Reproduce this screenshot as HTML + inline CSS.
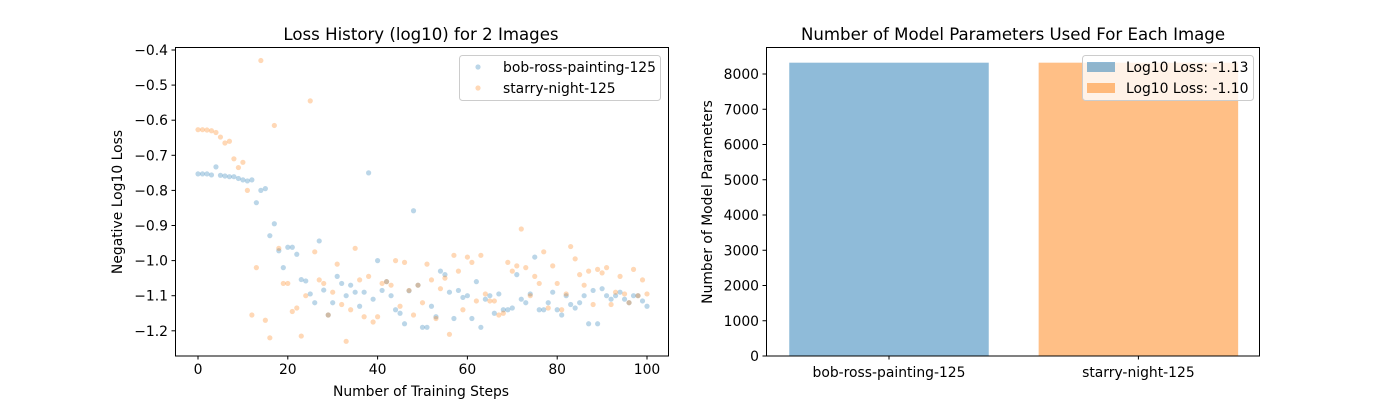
<!DOCTYPE html>
<html><head><meta charset="utf-8"><style>
body{margin:0;background:#fff}
svg{display:block;font-family:"DejaVu Sans","Liberation Sans",sans-serif}
</style></head><body>
<svg id="fig" width="1400" height="400" viewBox="0 0 1400 400">
<rect width="1400" height="400" fill="#fff"/>
<g id="left"></g>
<g id="right"></g>
</svg>
<script>
const steps = Array.from({length:101},(_, i)=>i);
const bobLoss = [-0.753,-0.753,-0.753,-0.756,-0.733,-0.757,-0.759,-0.761,-0.761,-0.766,-0.770,-0.773,-0.770,-0.835,-0.800,-0.795,-0.929,-0.895,-0.972,-1.02,-0.962,-0.962,-0.982,-1.054,-1.058,-1.095,-1.12,-0.944,-1.084,-1.155,-1.12,-1.045,-1.065,-1.10,-1.07,-1.09,-1.13,-1.09,-0.75,-1.11,-1.00,-1.085,-1.06,-1.10,-1.14,-1.15,-1.18,-1.086,-0.858,-1.07,-1.19,-1.19,-1.13,-1.16,-1.03,-1.04,-1.09,-1.165,-1.085,-1.105,-1.10,-1.165,-1.06,-1.19,-1.11,-1.10,-1.15,-1.095,-1.14,-1.14,-1.135,-1.04,-1.11,-1.12,-1.095,-0.99,-1.14,-1.14,-1.12,-1.09,-1.14,-1.155,-1.10,-1.125,-1.135,-1.12,-1.10,-1.18,-1.085,-1.18,-1.08,-1.10,-1.11,-1.10,-1.09,-1.11,-1.12,-1.10,-1.10,-1.115,-1.13];
const starryLoss = [-0.627,-0.627,-0.628,-0.630,-0.635,-0.648,-0.665,-0.660,-0.71,-0.735,-0.72,-0.80,-1.155,-1.02,-0.43,-1.17,-1.22,-0.615,-0.965,-1.065,-1.065,-1.145,-1.135,-1.215,-1.10,-0.545,-0.975,-1.055,-1.065,-1.155,-1.09,-1.01,-1.125,-1.23,-1.14,-0.965,-1.055,-1.16,-1.045,-1.175,-1.16,-1.065,-1.06,-1.07,-1.00,-1.13,-1.005,-1.085,-1.155,-1.07,-1.12,-1.01,-1.055,-1.165,-1.08,-1.05,-1.21,-0.985,-1.03,-1.14,-0.99,-1.005,-1.115,-0.985,-1.095,-1.115,-1.115,-1.155,-1.15,-1.005,-1.03,-1.015,-0.91,-1.02,-1.10,-1.045,-1.065,-0.975,-1.135,-1.015,-1.065,-1.14,-1.095,-0.96,-0.995,-1.04,-1.07,-1.03,-1.125,-1.025,-1.035,-1.02,-1.125,-1.09,-1.045,-1.095,-1.12,-1.025,-1.10,-1.055,-1.095];
const xTicks = [0,20,40,60,80,100];
const yTicks = [-0.4,-0.5,-0.6,-0.7,-0.8,-0.9,-1.0,-1.1,-1.2];
const barCategories = ["bob-ross-painting-125","starry-night-125"];
const barValues = [8321,8321];
const barLegend = ["Log10 Loss: -1.13","Log10 Loss: -1.10"];
const barTicks = [0,1000,2000,3000,4000,5000,6000,7000,8000];

const NS="http://www.w3.org/2000/svg";
const FS=13.9, TFS=16.6;
function mk(parent,tag,attrs,text){const e=document.createElementNS(NS,tag);for(const k in attrs)e.setAttribute(k,attrs[k]);if(text!==undefined)e.textContent=text;parent.appendChild(e);return e;}
const BLUE="#1f77b4",ORANGE="#ff7f0e";

// left chart
const L=document.getElementById('left');
const lx=v=>198+v*4.49, ly=v=>50+(-0.4-v)*351;
for(let i=0;i<steps.length;i++){
  const c=mk(L,'circle',{cx:lx(steps[i]),cy:ly(bobLoss[i]),r:2.6,fill:BLUE,'fill-opacity':0.3});
  
  
}
for(let i=0;i<steps.length;i++){
  const c=mk(L,'circle',{cx:lx(steps[i]),cy:ly(starryLoss[i]),r:2.6,fill:ORANGE,'fill-opacity':0.3});
  
  
}
const lf=mk(L,'rect',{x:175.5,y:47.5,width:493,height:308.5,fill:'none',stroke:'#000','stroke-width':1});


xTicks.forEach(t=>{const x=lx(t);mk(L,'line',{x1:x,x2:x,y1:356,y2:359.5,stroke:'#000'});
  const tx=mk(L,'text',{x:x,y:374,'font-size':FS,'text-anchor':'middle'},String(t));
  
  });
yTicks.forEach(t=>{const y=ly(t);mk(L,'line',{x1:171.5,x2:175,y1:y,y2:y,stroke:'#000'});
  const tx=mk(L,'text',{x:168,y:y+5,'font-size':FS,'text-anchor':'end'},'\u2212'+Math.abs(t).toFixed(1));
  
  });
let t1=mk(L,'text',{x:421,y:40,'font-size':TFS,'text-anchor':'middle'},'Loss History (log10) for 2 Images');

let t2=mk(L,'text',{x:421,y:396,'font-size':FS,'text-anchor':'middle'},'Number of Training Steps');

let t3=mk(L,'text',{x:0,y:0,'font-size':FS,'text-anchor':'middle',transform:'translate(122,202) rotate(-90)'},'Negative Log10 Loss');

let lg=mk(L,'g',{});

mk(lg,'rect',{x:459.5,y:55.5,width:201,height:45,rx:3,fill:'#fff','fill-opacity':0.8,stroke:'#ccc'});
mk(lg,'circle',{cx:478,cy:67,r:2.6,fill:BLUE,'fill-opacity':0.3});
mk(lg,'circle',{cx:478,cy:88,r:2.6,fill:ORANGE,'fill-opacity':0.3});
mk(lg,'text',{x:503,y:72,'font-size':FS},'bob-ross-painting-125');
mk(lg,'text',{x:503,y:93,'font-size':FS},'starry-night-125');

// right chart
const R=document.getElementById('right');
const rx=i=>889+i*249.4, ry=v=>356-v*0.03525, bw=199.5;
barValues.forEach((v,i)=>{const b=mk(R,'rect',{x:rx(i)-bw/2,y:ry(v),width:bw,height:356-ry(v),fill:i?ORANGE:BLUE,'fill-opacity':0.5});
  
  });
const rf=mk(R,'rect',{x:766.5,y:47.5,width:493,height:308.5,fill:'none',stroke:'#000'});

barCategories.forEach((c,i)=>{mk(R,'line',{x1:rx(i),x2:rx(i),y1:356,y2:359.5,stroke:'#000'});
  const tx=mk(R,'text',{x:rx(i),y:377,'font-size':FS,'text-anchor':'middle'},c);
  });
barTicks.forEach(t=>{const y=ry(t);mk(R,'line',{x1:762.5,x2:766,y1:y,y2:y,stroke:'#000'});
  const tx=mk(R,'text',{x:759,y:y+5,'font-size':FS,'text-anchor':'end'},String(t));
  });
let r1=mk(R,'text',{x:1013,y:40,'font-size':TFS,'text-anchor':'middle'},'Number of Model Parameters Used For Each Image');

let r3=mk(R,'text',{x:0,y:0,'font-size':FS,'text-anchor':'middle',transform:'translate(712,202) rotate(-90)'},'Number of Model Parameters');

let rg=mk(R,'g',{});

mk(rg,'rect',{x:1082.5,y:55.5,width:171,height:45,rx:3,fill:'#fff','fill-opacity':0.8,stroke:'#ccc'});
barLegend.forEach((s,i)=>{mk(rg,'rect',{x:1087,y:62+i*21,width:28,height:10,fill:i?ORANGE:BLUE,'fill-opacity':0.5});
  mk(rg,'text',{x:1126,y:72+i*21,'font-size':FS},s);});
</script>
</body></html>
